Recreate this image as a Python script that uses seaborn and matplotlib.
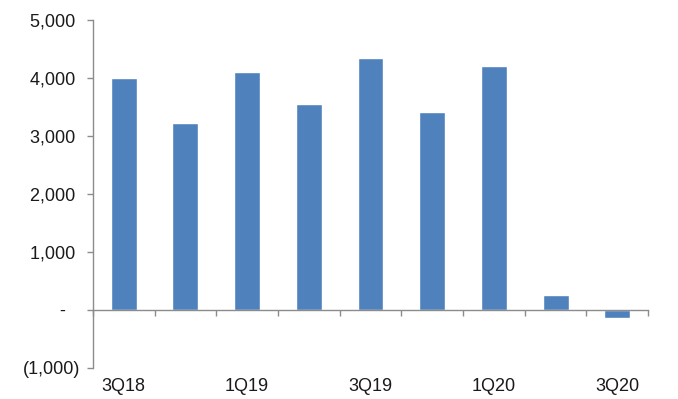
import matplotlib
matplotlib.use("Agg")
import matplotlib.pyplot as plt
import seaborn as sns
import pandas as pd
from matplotlib.ticker import FixedLocator, FuncFormatter

quarters = ["3Q18", "4Q18", "1Q19", "2Q19", "3Q19", "4Q19", "1Q20", "2Q20", "3Q20"]
values = [4000, 3220, 4100, 3550, 4345, 3415, 4205, 260, -130]
shown_labels = ["3Q18", "", "1Q19", "", "3Q19", "", "1Q20", "", "3Q20"]
y_ticks = [-1000, 0, 1000, 2000, 3000, 4000, 5000]

df = pd.DataFrame({"quarter": quarters, "value": values})

sns.set_style("white")
plt.rcParams["font.family"] = ["Liberation Sans", "DejaVu Sans"]

fig = plt.figure(figsize=(6.78, 3.99), dpi=100)
ax = fig.add_axes([0.137, 0.0777, 0.819, 0.8723])

sns.barplot(data=df, x="quarter", y="value", color="#4F81BD", saturation=1,
            width=0.42, ax=ax)

ax.set_xlim(-0.5, len(quarters) - 0.5)
ax.set_ylim(-1000, 5000)
ax.set_xlabel("")
ax.set_ylabel("")

def fmt(v, pos):
    if v == 0:
        return "-   "
    if v < 0:
        return "({:,.0f})".format(-v)
    return "{:,.0f} ".format(v)

ax.yaxis.set_major_locator(FixedLocator(y_ticks))
ax.yaxis.set_major_formatter(FuncFormatter(fmt))

for s in ["top", "right"]:
    ax.spines[s].set_visible(False)
ax.spines["bottom"].set_position(("data", 0))
for s in ["left", "bottom"]:
    ax.spines[s].set_color("#8c8c8c")
    ax.spines[s].set_linewidth(1.0)

ax.set_xticks(range(len(quarters)))
ax.set_xticklabels(shown_labels)
ax.set_xticks([i - 0.5 for i in range(len(quarters) + 1)], minor=True)
ax.tick_params(axis="x", which="major", bottom=True, length=0, pad=49,
               labelsize=13, labelcolor="#1a1a1a")
ax.tick_params(axis="x", which="minor", bottom=True, length=4.5, width=1.0,
               color="#8c8c8c", direction="out")
ax.tick_params(axis="y", which="major", left=True, length=4.5, width=1.0,
               color="#8c8c8c", direction="out", labelsize=13,
               labelcolor="#1a1a1a", pad=4.3)
ax.grid(False)

fig.savefig("out.png", dpi=100)
